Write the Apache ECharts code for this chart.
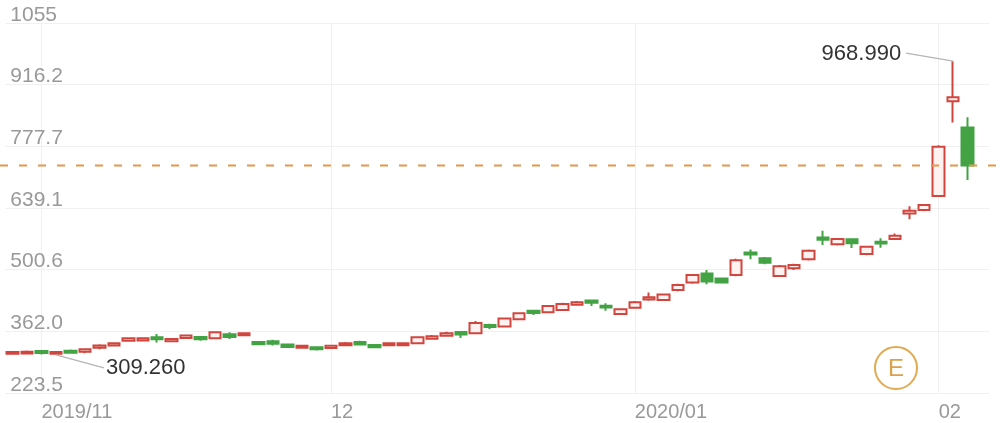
<!DOCTYPE html>
<html><head><meta charset="utf-8">
<script src="https://cdn.jsdelivr.net/npm/echarts@6/dist/echarts.min.js"></script>
<style>html,body{margin:0;padding:0;background:#fff}#c{width:1000px;height:423px}</style>
</head><body><div id="c"></div>
<script>
const dates = ['2019-10-30','2019-10-31','2019-11-01','2019-11-04','2019-11-05','2019-11-06','2019-11-07','2019-11-08','2019-11-11','2019-11-12','2019-11-13','2019-11-14','2019-11-15','2019-11-18','2019-11-19','2019-11-20','2019-11-21','2019-11-22','2019-11-25','2019-11-26','2019-11-27','2019-11-29','2019-12-02','2019-12-03','2019-12-04','2019-12-05','2019-12-06','2019-12-09','2019-12-10','2019-12-11','2019-12-12','2019-12-13','2019-12-16','2019-12-17','2019-12-18','2019-12-19','2019-12-20','2019-12-23','2019-12-24','2019-12-26','2019-12-27','2019-12-30','2019-12-31','2020-01-02','2020-01-03','2020-01-06','2020-01-07','2020-01-08','2020-01-09','2020-01-10','2020-01-13','2020-01-14','2020-01-15','2020-01-16','2020-01-17','2020-01-21','2020-01-22','2020-01-23','2020-01-24','2020-01-27','2020-01-28','2020-01-29','2020-01-30','2020-01-31','2020-02-03','2020-02-04','2020-02-05'];
const opens  = [311.5,312.5,318,311.5,318.5,316,325,330,341,341.5,349,340,347,349.5,346.5,355.5,353,338,339.5,332.5,325,326.5,324.5,331,338,331.5,330.5,331,335,345.5,352,360.5,358,376.5,373,389,408.5,405,410,422,431.5,419.5,401,415,433.5,432.5,455,471.5,492,480.5,488.5,539,526,486.5,503.5,524,573,557.5,569,536,563.5,569.5,626.5,634.5,666,879,820];
const closes = [315.5,316,313.5,315.5,314,321.5,330,335,346.5,346.5,344,345,352.5,344.5,360,349.5,358,333,334,327,329.5,321.5,329.5,335.5,332.5,326.5,335.5,335,348.5,351,357.5,355,381,372,391,402.5,403.5,419,423.5,427.5,426,415.5,411.5,427.5,438.5,445,466,488.5,474,472,522,534.5,516,508.5,511,543,568,569.5,560,552,559.5,577,633,646,777,888,734.7];
const lows   = [310.5,311,310,309.26,312,313,322,328,339,340,337,338,345,341,345,345,351,331,330,325,323,319,323,329,331,324,329,329,333,343,350,347,356,367,371,387,399,403,408,420,419,408,399,413,430.5,430,452,469,468,470,486,524,513,484,500,521,556,555,549,533,550,567,614,632,664,831,702];
const highs  = [318,319,318.5,318,321,323,333,337,348,349,356,347,354,351,362,360,360,339,343,334,332,328,331,338,341,333,337,337,350,354,361,362,385,379,393,405,410,421,426,430,433,425,413,430,449,447,469,491,500,482,525,546,529,511,514,546,588,572,571,554,571,582,643,648,780,968.99,843];
const yTickLabels = ['223.5','362.0','500.6','639.1','777.7','916.2','1055'];
const yMin = 223.48, yInterval = 138.55;

const FONT = '"Liberation Sans", Arial, sans-serif';
const chart = echarts.init(document.getElementById('c'));
const candleData = dates.map((d, i) => [opens[i], closes[i], lows[i], highs[i]]);
const isMonthStart = i => i > 0 && i < dates.length && dates[i].slice(5, 7) !== dates[i - 1].slice(5, 7);
const firstShown = dates.findIndex((d, i) => isMonthStart(i));
function xLabel(i) {
  if (!isMonthStart(i)) return '';
  const y = dates[i].slice(0, 4), m = dates[i].slice(5, 7);
  return (i === firstShown || m === '01') ? y + '/' + m : m;
}

chart.setOption({
  animation: false,
  backgroundColor: '#fff',
  grid: { left: 5.3, right: 10.7, top: 23, bottom: 30 },
  xAxis: {
    type: 'category', data: dates, max: dates.length, boundaryGap: true,
    axisLine: { show: false }, axisTick: { show: false },
    axisLabel: { interval: i => isMonthStart(i), formatter: (v, i) => xLabel(i), align: 'left',
      color: '#999', fontSize: 20, fontFamily: FONT, margin: 9 },
    splitLine: { show: true, interval: i => isMonthStart(i), alignWithLabel: true, lineStyle: { color: '#f0f0f0', width: 1 } }
  },
  yAxis: {
    type: 'value', min: yMin, max: yMin + 6 * yInterval, interval: yInterval,
    axisLine: { show: false }, axisTick: { show: false },
    axisLabel: { inside: true, margin: 5, align: 'left', verticalAlign: 'bottom', lineHeight: 16, color: '#999',
      fontSize: 21, fontFamily: FONT, formatter: v => yTickLabels[Math.round((v - yMin) / yInterval)] },
    splitLine: { lineStyle: { color: '#f0f0f0' } }
  },
  series: [{
    type: 'candlestick', data: candleData, barWidth: 12,
    itemStyle: { color: '#fff1ef', color0: '#42a244', borderColor: '#d0463f', borderColor0: '#42a244', borderWidth: 2 }
  }]
});

const iHi = highs.indexOf(Math.max(...highs));
const iLo = lows.indexOf(Math.min(...lows));
const pHi = chart.convertToPixel({ gridIndex: 0 }, [iHi, highs[iHi]]);
const pLo = chart.convertToPixel({ gridIndex: 0 }, [iLo, lows[iLo]]);
const yLast = chart.convertToPixel({ gridIndex: 0 }, [0, closes[closes.length - 1]])[1];

chart.setOption({
  graphic: [
    { type: 'line', z: 100, shape: { x1: 0, y1: yLast, x2: 1000, y2: yLast },
      style: { stroke: '#e6974f', lineWidth: 2, lineDash: [8, 11] } },
    { type: 'polyline', z: 100, shape: { points: [[pHi[0], pHi[1]], [pHi[0] - 47, pHi[1] - 8]] },
      style: { stroke: '#b5b5b5', lineWidth: 1.3, fill: null } },
    { type: 'text', z: 100, x: pHi[0] - 52, y: pHi[1] - 7,
      style: { text: highs[iHi].toFixed(3), align: 'right', verticalAlign: 'middle', fontSize: 22, fontFamily: FONT, fill: '#333' } },
    { type: 'polyline', z: 100, shape: { points: [[pLo[0], pLo[1]], [pLo[0] + 48, pLo[1] + 13]] },
      style: { stroke: '#b5b5b5', lineWidth: 1.3, fill: null } },
    { type: 'text', z: 100, x: pLo[0] + 50, y: pLo[1] + 13,
      style: { text: lows[iLo].toFixed(3), align: 'left', verticalAlign: 'middle', fontSize: 22, fontFamily: FONT, fill: '#333' } },
    { type: 'circle', z: 100, shape: { cx: 896, cy: 368, r: 21 },
      style: { stroke: '#e2a94e', lineWidth: 2, fill: null } },
    { type: 'text', z: 100, x: 896, y: 369,
      style: { text: 'E', align: 'center', verticalAlign: 'middle', fontSize: 24, fontFamily: FONT, fill: '#dca24a' } }
  ]
});
</script>
</body></html>
